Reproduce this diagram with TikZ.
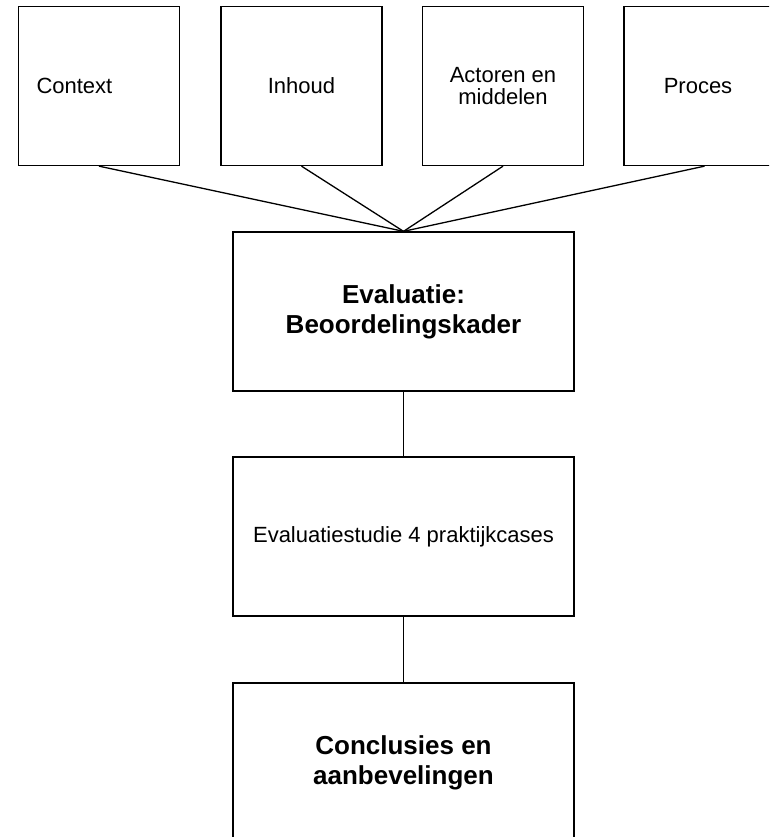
\documentclass[tikz,border=0pt]{standalone}
\usepackage{fontspec}
\setmainfont{Liberation Sans}
\begin{document}
\begin{tikzpicture}[x=1pt,y=-1pt,
  topbox/.style={draw, line width=1.3pt, minimum width=161pt, minimum height=159pt, inner sep=0pt, align=center, font=\fontsize{22}{22}\selectfont},
  midbox/.style={draw, line width=1.3pt, minimum width=341pt, minimum height=159pt, inner sep=0pt, align=center},
  regtext/.style={font=\fontsize{22}{22}\selectfont},
  boldtext/.style={font=\fontsize{26}{30}\selectfont\bfseries},
  conn/.style={line width=1.3pt}]
\useasboundingbox (0,0) rectangle (769,837);
\clip (0,0) rectangle (769,837);
\node[topbox, text width=125pt, align=left, inner xsep=18pt] (context) at (99,86) {Context};
\node[topbox] (inhoud) at (301.5,86) {Inhoud};
\node[topbox] (actoren) at (503,86) {Actoren en\\middelen};
\node[topbox] (proces) at (704.5,86) {Proces\hspace*{13pt}};
\node[midbox, boldtext] (eval) at (403.5,311.5) {Evaluatie:\\Beoordelingskader};
\node[midbox, regtext] (studie) at (403.5,536.5) {Evaluatiestudie 4 praktijkcases};
\node[midbox, boldtext] (concl) at (403.5,762.5) {Conclusies en\\aanbevelingen};
\draw[conn] (context.south) -- (eval.north);
\draw[conn] (inhoud.south) -- (eval.north);
\draw[conn] (actoren.south) -- (eval.north);
\draw[conn] (proces.south) -- (eval.north);
\draw[conn] (eval.south) -- (studie.north);
\draw[conn] (studie.south) -- (concl.north);
\end{tikzpicture}
\end{document}
